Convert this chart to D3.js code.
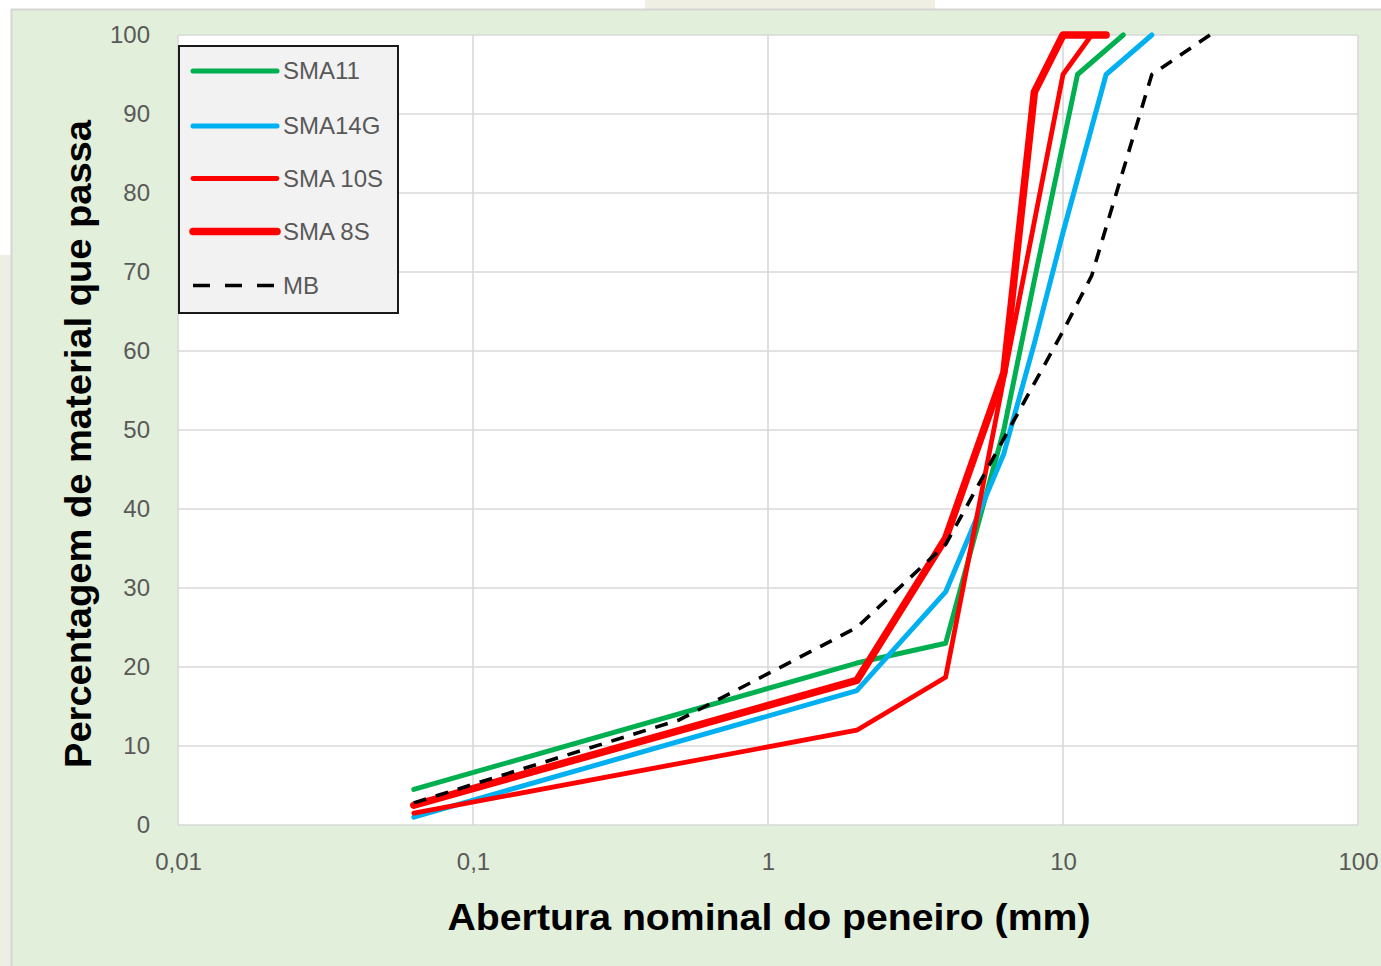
<!DOCTYPE html>
<html>
<head>
<meta charset="utf-8">
<script src="https://cdn.jsdelivr.net/npm/d3@7"></script>
<style>
  html, body { margin: 0; padding: 0; background: #ffffff; }
  svg { display: block; }
</style>
</head>
<body>
<script>
// Grading curves: sieve opening (mm) vs. percentage passing
const sieveTicks = [0.01, 0.1, 1, 10, 100];
const sieveTickLabels = ["0,01", "0,1", "1", "10", "100"];
const passTicks = [0, 10, 20, 30, 40, 50, 60, 70, 80, 90, 100];

const sma11  = [[0.063, 4.5], [2, 20.5], [4, 23], [6.3, 50], [8, 69], [11.2, 95], [16, 100]];
const sma14g = [[0.063, 1], [2, 17], [4, 29.5], [6.3, 47], [8, 61], [10, 75], [14, 95], [20, 100]];
const sma10s = [[0.063, 1.5], [2, 12], [4, 18.7], [10, 95], [12.5, 100], [14, 100]];
const sma8s  = [[0.063, 2.5], [2, 18.3], [4, 36.3], [6.3, 57.2], [8, 92.8], [10, 100], [14, 100]];
const mb     = [[0.063, 2.8], [0.5, 13.3], [2, 25], [4, 35.5], [10, 62.5], [12.5, 69.5], [20, 95], [31.5, 100]];

const seriesNames = ["SMA11", "SMA14G", "SMA 10S", "SMA 8S", "MB"];
const seriesData = [sma11, sma14g, sma10s, sma8s, mb];
const seriesStyle = [
  { color: "#00b050", width: 5,   dash: null },
  { color: "#00b0f0", width: 5,   dash: null },
  { color: "#ff0000", width: 4.8, dash: null },
  { color: "#ff0000", width: 7.5, dash: null },
  { color: "#000000", width: 3.6, dash: "13,10" }
];

const W = 1381, H = 966;
const plot = { left: 178, right: 1358, top: 35, bottom: 825 };

const svg = d3.select("body").append("svg")
  .attr("width", W).attr("height", H);

// page surroundings
svg.append("rect").attr("x", 0).attr("y", 0).attr("width", W).attr("height", H).attr("fill", "#ffffff");
svg.append("rect").attr("x", 645).attr("y", 0).attr("width", 290).attr("height", 10).attr("fill", "#efefe4");
svg.append("rect").attr("x", 0).attr("y", 255).attr("width", 12).attr("height", H - 255).attr("fill", "#efeee4");

// chart area
svg.append("rect").attr("x", 12).attr("y", 10).attr("width", W - 12).attr("height", H - 10)
  .attr("fill", "#e2efda");
svg.append("line").attr("x1", 11).attr("x2", W).attr("y1", 9.5).attr("y2", 9.5)
  .attr("stroke", "#d6d6d6").attr("stroke-width", 2);
svg.append("line").attr("x1", 11.5).attr("x2", 11.5).attr("y1", 9).attr("y2", H)
  .attr("stroke", "#d6d6d6").attr("stroke-width", 2);

// plot area
svg.append("rect")
  .attr("x", plot.left).attr("y", plot.top)
  .attr("width", plot.right - plot.left).attr("height", plot.bottom - plot.top)
  .attr("fill", "#ffffff");

const x = d3.scaleLog().domain([0.01, 100]).range([plot.left, plot.right]);
const y = d3.scaleLinear().domain([0, 100]).range([plot.bottom, plot.top]);

// gridlines
const grid = svg.append("g").attr("stroke", "#d9d9d9").attr("stroke-width", 1.6);
grid.selectAll("line.h").data(passTicks).join("line")
  .attr("class", "h")
  .attr("x1", plot.left).attr("x2", plot.right)
  .attr("y1", d => y(d)).attr("y2", d => y(d));
grid.selectAll("line.v").data(sieveTicks).join("line")
  .attr("class", "v")
  .attr("x1", d => x(d)).attr("x2", d => x(d))
  .attr("y1", plot.top).attr("y2", plot.bottom);

// axes (labels only)
const tickFont = "'Liberation Sans', Arial, sans-serif";
const xAxis = d3.axisBottom(x)
  .tickValues(sieveTicks)
  .tickFormat((d, i) => sieveTickLabels[i])
  .tickSize(0).tickPadding(28);
const gx = svg.append("g").attr("transform", `translate(0,${plot.bottom})`).call(xAxis);
gx.select(".domain").remove();
gx.selectAll("text").attr("font-family", tickFont).attr("font-size", 24).attr("fill", "#595959");

const yAxis = d3.axisLeft(y)
  .tickValues(passTicks)
  .tickFormat(d3.format("d"))
  .tickSize(0).tickPadding(28);
const gy = svg.append("g").attr("transform", `translate(${plot.left},0)`).call(yAxis);
gy.select(".domain").remove();
gy.selectAll("text").attr("font-family", tickFont).attr("font-size", 24).attr("fill", "#595959");

// series
const line = d3.line().x(d => x(d[0])).y(d => y(d[1]));
const seriesG = svg.append("g").attr("fill", "none");
seriesData.forEach((data, i) => {
  const st = seriesStyle[i];
  seriesG.append("path")
    .datum(data)
    .attr("d", line)
    .attr("stroke", st.color)
    .attr("stroke-width", st.width)
    .attr("stroke-linejoin", "round")
    .attr("stroke-linecap", st.dash ? "butt" : "round")
    .attr("stroke-dasharray", st.dash);
});

// axis titles
const titleFont = "'Liberation Sans Narrow', 'Liberation Sans', Arial, sans-serif";
svg.append("text")
  .attr("x", (plot.left + plot.right) / 2 + 1)
  .attr("y", 930)
  .attr("text-anchor", "middle")
  .attr("font-family", titleFont)
  .attr("font-weight", "bold")
  .attr("font-size", 37)
  .attr("textLength", 643)
  .attr("lengthAdjust", "spacingAndGlyphs")
  .attr("fill", "#000000")
  .text("Abertura nominal do peneiro (mm)");

svg.append("text")
  .attr("transform", "translate(91,444) rotate(-90)")
  .attr("text-anchor", "middle")
  .attr("font-family", titleFont)
  .attr("font-weight", "bold")
  .attr("font-size", 36)
  .attr("textLength", 648)
  .attr("lengthAdjust", "spacingAndGlyphs")
  .attr("fill", "#000000")
  .text("Percentagem de material que passa");

// legend
const legend = svg.append("g");
legend.append("rect")
  .attr("x", 179).attr("y", 46).attr("width", 219).attr("height", 267)
  .attr("fill", "#f2f2f2").attr("stroke", "#1a1a1a").attr("stroke-width", 2);
const legendRowY = [71, 126, 178.5, 231.5, 285.5];
seriesNames.forEach((name, i) => {
  const st = seriesStyle[i];
  legend.append("line")
    .attr("x1", 193).attr("x2", 277)
    .attr("y1", legendRowY[i]).attr("y2", legendRowY[i])
    .attr("stroke", st.color)
    .attr("stroke-width", st.width)
    .attr("stroke-linecap", st.dash ? "butt" : "round")
    .attr("stroke-dasharray", st.dash ? "17,15" : null);
  legend.append("text")
    .attr("x", 283).attr("y", legendRowY[i])
    .attr("dy", "0.35em")
    .attr("font-family", tickFont)
    .attr("font-size", 24)
    .attr("fill", "#595959")
    .text(name);
});
</script>
</body>
</html>
